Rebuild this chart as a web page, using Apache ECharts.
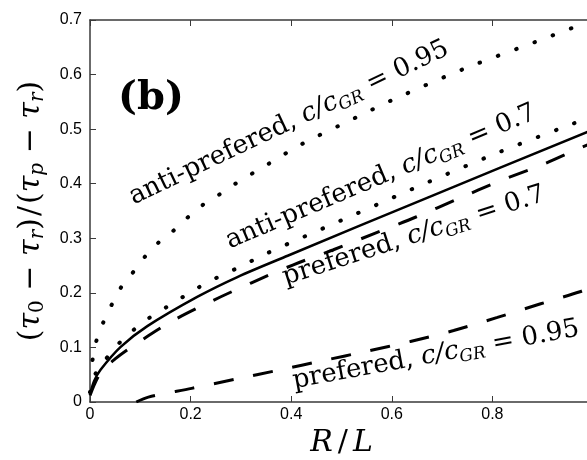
<!DOCTYPE html>
<html>
<head>
<meta charset="utf-8">
<script src="https://cdn.jsdelivr.net/npm/echarts@6/dist/echarts.min.js"></script>
<style>
  html, body { margin: 0; padding: 0; background: #fff; }
  #main { width: 587px; height: 460px; }
</style>
</head>
<body>
<div id="main"></div>
<script>
// anti-prefered, c/cGR = 0.95 (dotted)
var anti95X = [0.005, 0.012, 0.026, 0.043, 0.061, 0.085, 0.109, 0.136, 0.166, 0.194, 0.224, 0.257, 0.289, 0.356, 0.422, 0.528, 0.600, 0.742, 0.886, 1.0]
var anti95Y = [0.077, 0.110, 0.145, 0.178, 0.209, 0.237, 0.266, 0.292, 0.314, 0.338, 0.361, 0.380, 0.400, 0.437, 0.473, 0.521, 0.553, 0.610, 0.660, 0.700]
// anti-prefered, c/cGR = 0.7 (dotted)
var anti7X = [0, 0.010, 0.031, 0.056, 0.084, 0.116, 0.149, 0.182, 0.214, 0.248, 0.285, 0.320, 0.353, 0.389, 0.532, 0.675, 0.814, 0.960, 1.0]
var anti7Y = [0.018, 0.050, 0.078, 0.106, 0.130, 0.153, 0.172, 0.191, 0.209, 0.226, 0.242, 0.258, 0.273, 0.288, 0.346, 0.404, 0.458, 0.510, 0.523]
// solid curve
var solidX = [0, 0.008, 0.021, 0.061, 0.114, 0.214, 0.293, 0.393, 0.675, 1.0]
var solidY = [0.014, 0.038, 0.059, 0.101, 0.139, 0.193, 0.229, 0.268, 0.376, 0.499]
// prefered, c/cGR = 0.7 (dashed)
var pref7X = [0, 0.020, 0.050, 0.086, 0.161, 0.240, 0.320, 0.403, 0.484, 0.566, 0.648, 0.731, 0.814, 0.897, 0.973, 1.0]
var pref7Y = [0.012, 0.052, 0.079, 0.103, 0.147, 0.184, 0.218, 0.251, 0.279, 0.309, 0.339, 0.372, 0.405, 0.434, 0.465, 0.475]
// prefered, c/cGR = 0.95 (dashed)
var pref95X = [0.092, 0.116, 0.202, 0.290, 0.378, 0.464, 0.550, 0.637, 0.723, 0.810, 0.896, 0.974, 1.0]
var pref95Y = [0.000, 0.009, 0.025, 0.042, 0.059, 0.076, 0.093, 0.111, 0.131, 0.155, 0.180, 0.202, 0.212]

var xTicks = ['0', '0.2', '0.4', '0.6', '0.8', '1']
var yTicks = ['0', '0.1', '0.2', '0.3', '0.4', '0.5', '0.6', '0.7']

function pairs(xs, ys) {
	var out = []
	for (var i = 0; i < xs.length; i++) out.push([xs[i], ys[i]])
	return out
}

var chart = echarts.init(document.getElementById('main'), null, { renderer: 'canvas' })

var serif = 'DejaVu Serif'
var axisColor = '#3a3a3a'
var richLabel = {
	t: { fontFamily: serif, fontSize: 26, fill: '#000' },
	m: { fontFamily: serif, fontStyle: 'italic', fontSize: 26, fill: '#000' },
	s: { fontFamily: serif, fontStyle: 'italic', fontSize: 17, fill: '#000', padding: [14, 0, 0, 0] }
}

function curveLabel(x, y, deg, text) {
	return {
		type: 'text',
		x: x, y: y,
		rotation: deg * Math.PI / 180,
		style: { text: text, rich: richLabel, align: 'center', verticalAlign: 'middle' }
	}
}

var dotted = { color: '#000', width: 4, type: [0.5, 19], cap: 'round' }
var dashed = { color: '#000', width: 3, type: [20, 20], cap: 'butt' }

var option = {
	animation: false,
	backgroundColor: '#fff',
	grid: { left: 90, right: -6, top: 20, bottom: 58, containLabel: false, outerBoundsMode: 'none' },
	xAxis: [
		{
			type: 'value', min: 0, max: 1, interval: 0.2,
			name: '{i|R}{t|/}{i|L}',
			nameLocation: 'middle', nameGap: 16,
			nameTextStyle: {
				rich: {
					i: { fontFamily: serif, fontStyle: 'italic', fontSize: 30, color: '#000' },
					t: { fontFamily: serif, fontSize: 30, color: '#000', padding: [0, 5, 0, 5] }
				}
			},
			axisLine: { lineStyle: { color: axisColor, width: 1.5 } },
			axisTick: { inside: true, length: 6, lineStyle: { color: axisColor } },
			axisLabel: {
				color: '#000', fontFamily: 'Liberation Sans', fontSize: 16, margin: 5,
				formatter: function (v) { return xTicks[Math.round(v / 0.2)] }
			},
			splitLine: { show: false }
		},
		{
			type: 'value', min: 0, max: 1, interval: 0.2, position: 'top',
			axisLine: { lineStyle: { color: axisColor, width: 1.5 } },
			axisTick: { inside: true, length: 6, lineStyle: { color: axisColor } },
			axisLabel: { show: false },
			splitLine: { show: false }
		}
	],
	yAxis: {
		type: 'value', min: 0, max: 0.7, interval: 0.1,
		name: '{p|(}{i|τ}{z|0}{t| − }{i|τ}{s|r}{p|)}{q|/}{p|(}{i|τ}{s|p}{t| − }{i|τ}{s|r}{p|)}',
		nameLocation: 'middle', nameRotate: 90, nameGap: 42,
		nameTextStyle: {
			rich: {
				p: { fontFamily: serif, fontSize: 30, color: '#000' },
				t: { fontFamily: serif, fontSize: 30, color: '#000' },
				q: { fontFamily: serif, fontSize: 30, color: '#000', padding: [0, 2, 0, 2] },
				i: { fontFamily: serif, fontStyle: 'italic', fontSize: 30, color: '#000' },
				z: { fontFamily: serif, fontSize: 20, color: '#000', padding: [14, 0, 0, 0] },
				s: { fontFamily: serif, fontStyle: 'italic', fontSize: 20, color: '#000', padding: [14, 0, 0, 0] }
			}
		},
		axisLine: { show: true, lineStyle: { color: axisColor, width: 1.5 } },
		axisTick: { show: true, inside: true, length: 6, lineStyle: { color: axisColor } },
		axisLabel: {
			color: '#000', fontFamily: 'Liberation Sans', fontSize: 16, margin: 8,
			formatter: function (v) { return yTicks[Math.round(v / 0.1)] }
		},
		splitLine: { show: false }
	},
	series: [
		{ type: 'line', data: pairs(anti95X, anti95Y), showSymbol: false, smooth: 0.3, lineStyle: dotted },
		{ type: 'line', data: pairs(anti7X, anti7Y), showSymbol: false, smooth: 0.3, lineStyle: dotted },
		{ type: 'line', data: pairs(solidX, solidY), showSymbol: false, smooth: 0.3, lineStyle: { color: '#000', width: 2.5 } },
		{ type: 'line', data: pairs(pref7X, pref7Y), showSymbol: false, smooth: 0.3, lineStyle: dashed },
		{ type: 'line', data: pairs(pref95X, pref95Y), showSymbol: false, smooth: 0.3, lineStyle: dashed }
	],
	graphic: [
		{
			type: 'text', x: 151, y: 99,
			style: { text: '(b)', fontFamily: serif, fontWeight: 'bold', fontSize: 40, fill: '#000', align: 'center', verticalAlign: 'middle' }
		},
		curveLabel(289, 123, 25.5, '{t|anti-prefered, }{m|c/c}{s|GR}{t| = 0.95}'),
		curveLabel(381, 177, 23, '{t|anti-prefered, }{m|c/c}{s|GR}{t| = 0.7}'),
		curveLabel(414, 236, 18, '{t|prefered, }{m|c/c}{s|GR}{t| = 0.7}'),
		curveLabel(436, 355, 10.5, '{t|prefered, }{m|c/c}{s|GR}{t| = 0.95}')
	]
}

chart.setOption(option)

window.addEventListener('resize', function () {
	chart.resize()
})
</script>
</body>
</html>
